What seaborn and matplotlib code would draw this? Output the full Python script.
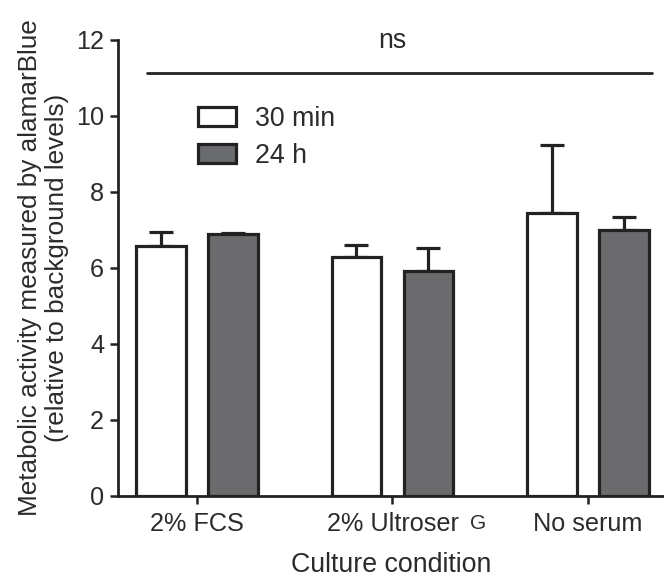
import numpy as np
import pandas as pd
import matplotlib
matplotlib.use("Agg")
import matplotlib.pyplot as plt
import seaborn as sns
from matplotlib.patches import Patch

conditions = ["2% FCS", "2% Ultroser", "No serum"]
times = ["30 min", "24 h"]
means_30min = [6.57, 6.29, 7.43]
means_24h = [6.89, 5.92, 6.99]
err_30min = [0.36, 0.31, 1.80]
err_24h = [0.03, 0.59, 0.35]
yticks = [0, 2, 4, 6, 8, 10, 12]

sns.set_style("ticks")
plt.rcParams["font.family"] = ["Liberation Sans", "DejaVu Sans"]
txt = "#2b2b2b"
edge = "#222222"
plt.rcParams["text.color"] = txt
plt.rcParams["axes.labelcolor"] = txt
plt.rcParams["xtick.color"] = edge
plt.rcParams["ytick.color"] = edge
plt.rcParams["xtick.labelcolor"] = txt
plt.rcParams["ytick.labelcolor"] = txt

df = pd.DataFrame({
    "condition": conditions * 2,
    "time": [times[0]] * 3 + [times[1]] * 3,
    "value": means_30min + means_24h,
})
errs = {times[0]: err_30min, times[1]: err_24h}

fig = plt.figure(figsize=(6.64, 5.80), dpi=100)
ax = fig.add_axes([118 / 664, 1 - 495.7 / 580, 546 / 664, 456 / 580])

palette = {times[0]: "white", times[1]: "#6a6b6f"}
sns.barplot(data=df, x="condition", y="value", hue="time", order=conditions,
            hue_order=times, palette=palette, edgecolor=edge, linewidth=2.3,
            width=0.736, gap=0.31, errorbar=None, legend=False, ax=ax, zorder=3)

for t, cont in zip(times, ax.containers):
    xs = [b.get_x() + b.get_width() / 2 for b in cont]
    hs = [b.get_height() for b in cont]
    ax.errorbar(xs, hs, yerr=[np.zeros(len(hs)), errs[t]], fmt="none",
                ecolor=edge, elinewidth=2.3, capsize=8.6, capthick=2.3, zorder=2)

ax.set_ylim(0, 12)
ax.set_xlim(-0.404, 2.389)
ax.set_yticks(yticks)
ax.tick_params(axis="both", labelsize=18.2, width=1.8, length=6)
ax.tick_params(axis="x", pad=6)
ax.tick_params(axis="y", pad=4)
sns.despine(ax=ax)
for s in ["left", "bottom"]:
    ax.spines[s].set_linewidth(2.0)
    ax.spines[s].set_color(edge)

ax.set_xlabel("Culture condition", fontsize=19.3, labelpad=11)
ax.set_ylabel("Metabolic activity measured by alamarBlue\n(relative to background levels)",
              fontsize=18.8, linespacing=1.15, va="center")
ax.yaxis.set_label_coords(-0.1364, 0.5)

# smaller G after Ultroser
ax.text(1.437, -0.062, "G", transform=ax.get_xaxis_transform(), fontsize=15,
        ha="center", va="center", color=txt)

# ns bracket
ax.plot([-0.256, 2.327], [11.12, 11.12], color=edge, lw=2.0, clip_on=False)
ax.text(1.0, 11.96, "ns", ha="center", va="center", fontsize=19.3, clip_on=False)

handles = [Patch(facecolor=palette[t], edgecolor=edge, linewidth=2.3, label=t) for t in times]
ax.legend(handles=handles, loc="upper left", bbox_to_anchor=(0.1465, 0.855), frameon=False,
          fontsize=19.3, handlelength=1.41, handleheight=0.71, handletextpad=0.7,
          labelspacing=0.41, borderpad=0, borderaxespad=0)

fig.savefig("out.png", dpi=100)
